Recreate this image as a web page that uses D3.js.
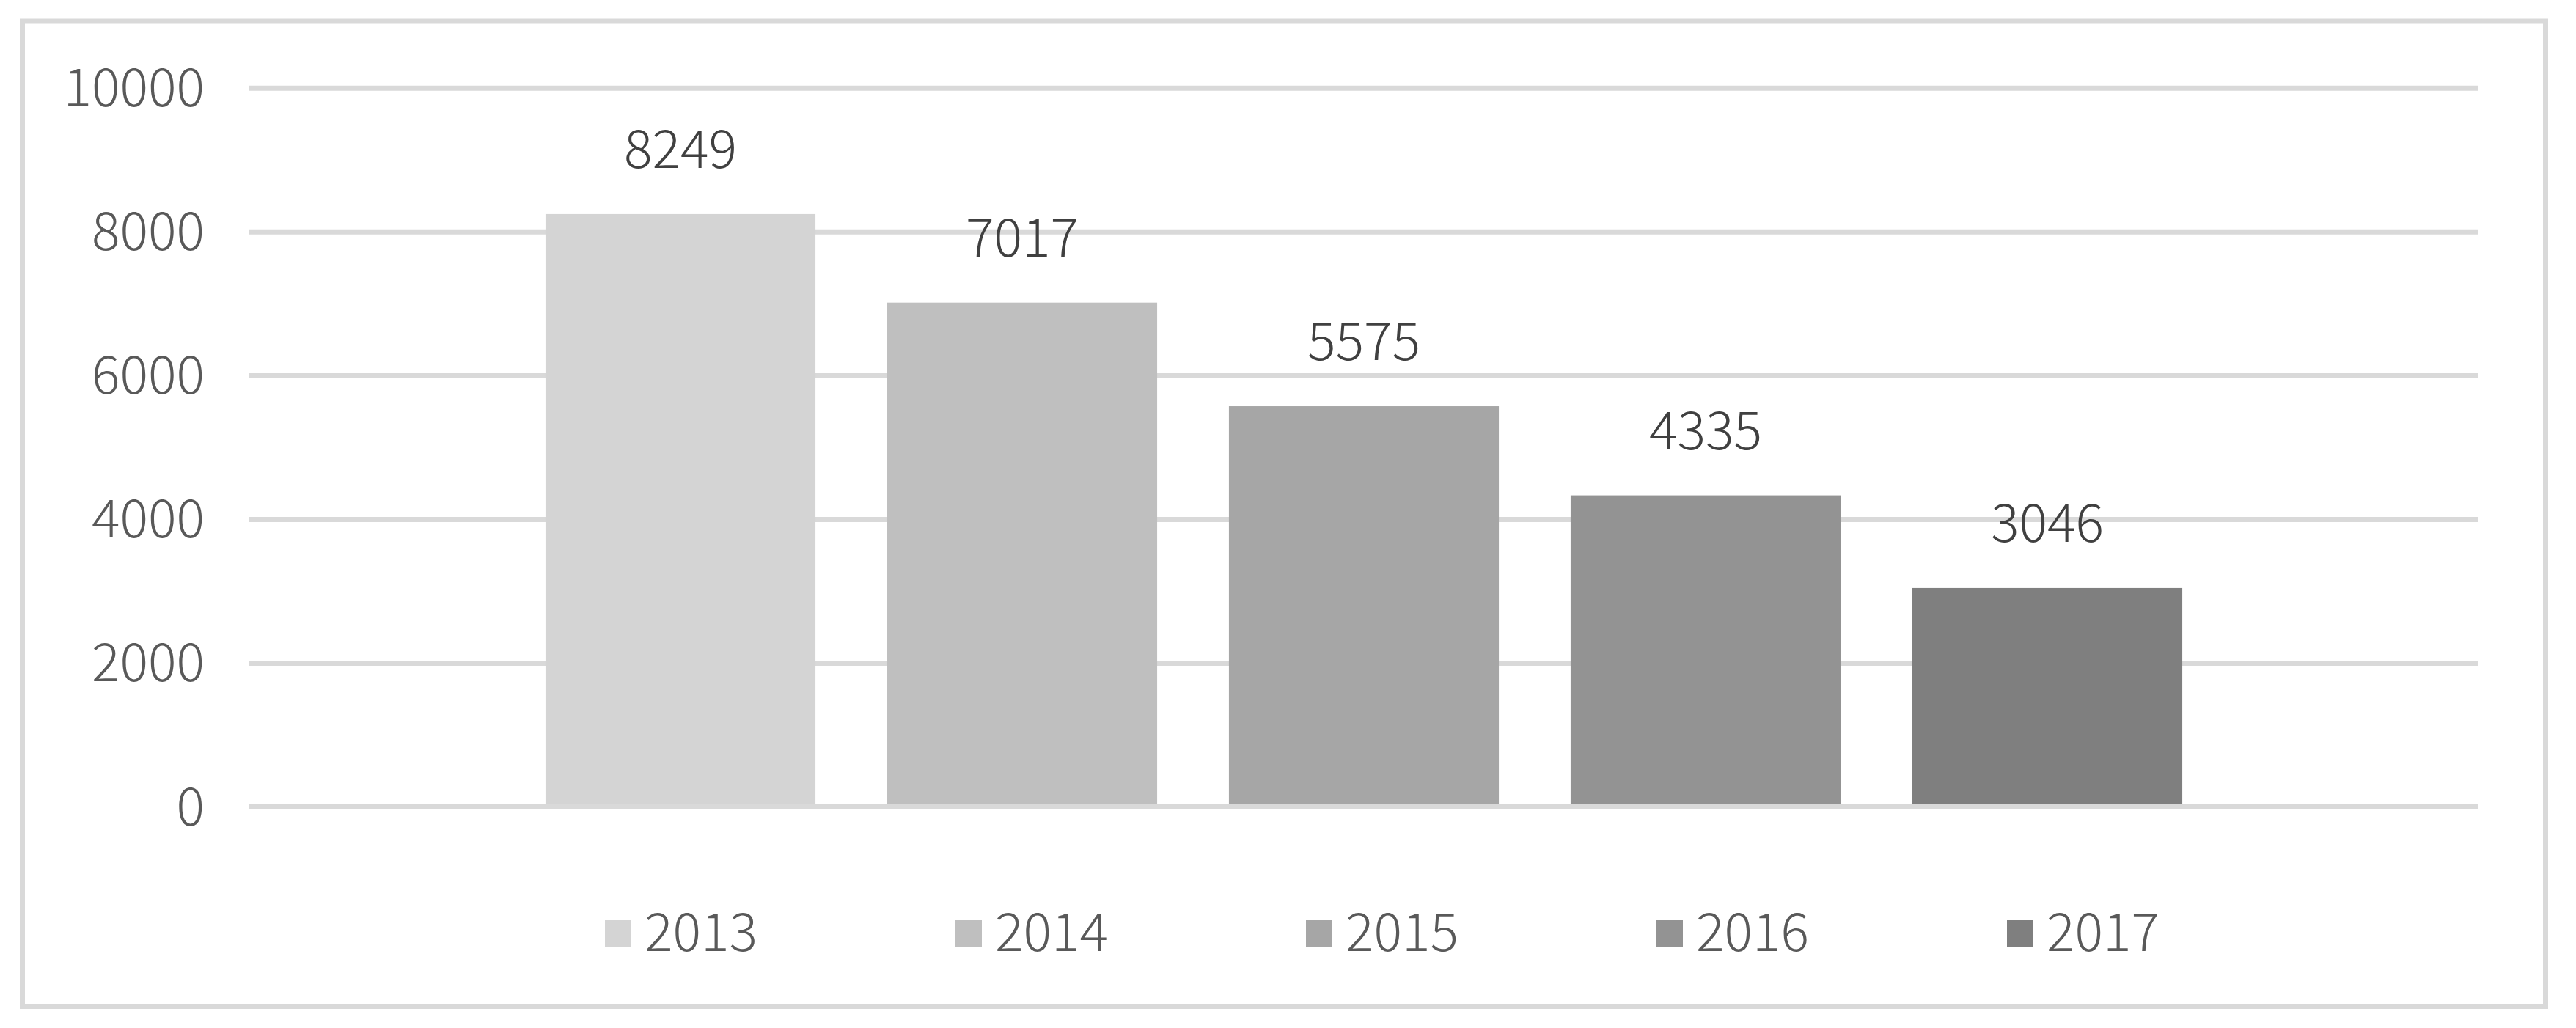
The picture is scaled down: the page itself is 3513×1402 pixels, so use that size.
<!DOCTYPE html>
<html>
<head>
<meta charset="UTF-8" />
<title>bar chart</title>
<script src="https://d3js.org/d3.v7.min.js"></script>
<style>
  body { margin: 0; background: #fff; }
  text { font-family: "Noto Sans CJK SC", "Noto Sans", sans-serif; font-weight: 300; }
</style>
</head>
<body>
<div id="chart"></div>
<script>
// data
const years = ["2013", "2014", "2015", "2016", "2017"];
const values = [8249, 7017, 5575, 4335, 3046];
const yTicks = [0, 2000, 4000, 6000, 8000, 10000];
const barColors = ["#d4d4d4", "#bfbfbf", "#a6a6a6", "#939393", "#7f7f7f"];

const width = 3513, height = 1402;
const plotLeft = 340, plotRight = 3380;
const y0 = 1100.5, yTop = 120.3;

const svg = d3.select("#chart").append("svg")
  .attr("width", width)
  .attr("height", height);

svg.append("rect")
  .attr("width", width).attr("height", height)
  .attr("fill", "#fff");

// chart border
svg.append("rect")
  .attr("x", 30.5).attr("y", 29)
  .attr("width", 3441).attr("height", 1343.5)
  .attr("fill", "none")
  .attr("stroke", "#d9d9d9")
  .attr("stroke-width", 7);

const y = d3.scaleLinear().domain([0, 10000]).range([y0, yTop]);

const x = d3.scaleBand()
  .domain(years)
  .range([plotLeft + 355, plotRight - 355])
  .paddingInner(0.21)
  .paddingOuter(0.105);

// gridlines
svg.append("g")
  .selectAll("line")
  .data(yTicks.filter(d => d > 0))
  .enter().append("line")
  .attr("x1", plotLeft).attr("x2", plotRight)
  .attr("y1", d => y(d)).attr("y2", d => y(d))
  .attr("stroke", "#d9d9d9")
  .attr("stroke-width", 7);

// bars
svg.append("g")
  .selectAll("rect")
  .data(values)
  .enter().append("rect")
  .attr("x", (d, i) => x(years[i]))
  .attr("y", d => y(d))
  .attr("width", x.bandwidth())
  .attr("height", d => y(0) - y(d))
  .attr("fill", (d, i) => barColors[i]);

// axis line at 0
svg.append("line")
  .attr("x1", plotLeft).attr("x2", plotRight)
  .attr("y1", y(0)).attr("y2", y(0))
  .attr("stroke", "#d9d9d9")
  .attr("stroke-width", 7);

// y labels
svg.append("g")
  .selectAll("text")
  .data(yTicks)
  .enter().append("text")
  .attr("x", 279)
  .attr("y", d => y(d) + 25)
  .attr("text-anchor", "end")
  .attr("font-size", 72)
  .attr("fill", "#595959")
  .text(d => d);

// data labels
svg.append("g")
  .selectAll("text")
  .data(values)
  .enter().append("text")
  .attr("x", (d, i) => x(years[i]) + x.bandwidth() / 2)
  .attr("y", d => y(d) - 63)
  .attr("text-anchor", "middle")
  .attr("font-size", 72)
  .attr("fill", "#404040")
  .text(d => d);

// legend
const legend = svg.append("g")
  .selectAll("g")
  .data(years)
  .enter().append("g")
  .attr("transform", (d, i) => `translate(${825 + i * 478},0)`);

legend.append("rect")
  .attr("x", 0).attr("y", 1255)
  .attr("width", 36).attr("height", 36)
  .attr("fill", (d, i) => barColors[i]);

legend.append("text")
  .attr("x", 54).attr("y", 1297)
  .attr("font-size", 72)
  .attr("fill", "#595959")
  .text(d => d);
</script>
</body>
</html>
